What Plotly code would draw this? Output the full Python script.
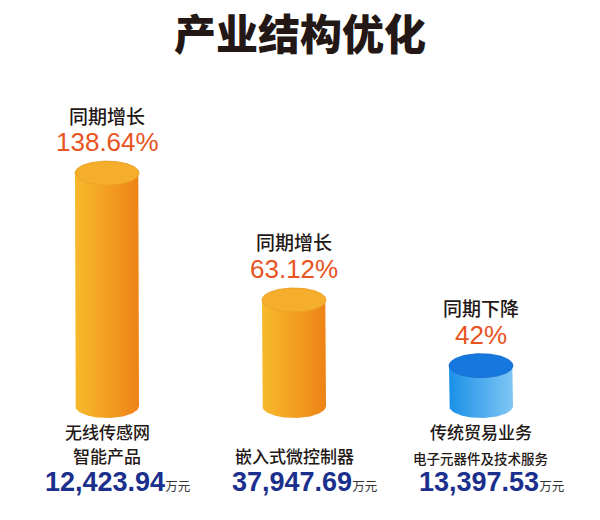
import numpy as np
import plotly.graph_objects as go

# data
line1 = ["无线传感网", "", "传统贸易业务"]
line2 = ["智能产品", "嵌入式微控制器", "电子元器件及技术服务"]
trend = ["同期增长", "同期增长", "同期下降"]
change_pct = [138.64, 63.12, 42]
amount = [12423.94, 37947.69, 13397.53]
cyl_height = [138.64, 63.12, 24]  # drawn height, in % units (the drop bar is drawn short)

# styles
body_colors = [
    [[0, "#F7BA2C"], [1, "#EE8316"]],
    [[0, "#F7BA2C"], [1, "#EE8316"]],
    [[0, "#1990E8"], [1, "#80C6F3"]],
]
top_colors = ["#F5AE2B", "#F5AE2B", "#1677DE"]
top_lines = ["#EBA028", "#EBA028", "#1A6FCC"]

W, H = 600, 520
off = 8               # page body margin pushes the plot 8px right/down
px_x = 187.0          # pixels per category step
px_y = 1.68           # pixels per % unit
x_left = -(107 - off) / px_x
base_from_top = 406 - off
rx = 32 / px_x
ry = 12 / px_y


def py(y_screen):
    return 1 - (y_screen - off) / H


fig = go.Figure()
t = np.linspace(0, 2 * np.pi, 121)

for i, h in enumerate(cyl_height):
    cx = i
    t_bot = np.linspace(np.pi, 2 * np.pi, 61)
    t_top = np.linspace(0, np.pi, 61)
    xs = np.concatenate([[cx - rx], cx + rx * np.cos(t_bot), [cx + rx], cx + rx * np.cos(t_top)])
    ys = np.concatenate([[h], 0 + ry * np.sin(t_bot), [h], h + ry * np.sin(t_top)])
    fig.add_trace(go.Scatter(
        x=xs, y=ys, mode="lines", fill="toself",
        line=dict(width=0),
        fillgradient=dict(type="horizontal", colorscale=body_colors[i]),
        hoverinfo="skip", showlegend=False,
    ))
    fig.add_trace(go.Scatter(
        x=cx + rx * np.cos(t), y=h + ry * np.sin(t), mode="lines", fill="toself",
        fillcolor=top_colors[i], line=dict(width=0.8, color=top_lines[i]),
        hoverinfo="skip", showlegend=False,
    ))

    fig.add_annotation(x=cx, y=h, yshift=31, text=f"{change_pct[i]:g}%",
                       showarrow=False, font=dict(size=26, color="#E8541F",
                                                  family="Liberation Sans, Noto Sans CJK SC"))
    fig.add_annotation(x=cx, y=h, yshift=58, text=trend[i], showarrow=False,
                       font=dict(size=19, color="#231815", family="Noto Sans CJK SC", weight=500))

    if line1[i]:
        fig.add_annotation(x=cx, y=py(446), yref="paper", text=line1[i], showarrow=False,
                           font=dict(size=17, color="#231815", family="Noto Sans CJK SC", weight=500))
    sub_size = 13.5 if len(line2[i]) > 7 else 17
    fig.add_annotation(x=cx, y=py(470), yref="paper", text=line2[i], showarrow=False,
                       font=dict(size=sub_size, color="#231815", family="Noto Sans CJK SC", weight=500))
    fig.add_annotation(
        x=cx, y=py(499), yref="paper", xshift=10, showarrow=False,
        text=f"<b>{amount[i]:,.2f}</b><span style='font-size:12.5px;color:#333333;"
             f"font-family:Noto Sans CJK SC;font-weight:400'>万元</span>",
        font=dict(size=27, color="#1B2F8C", family="Liberation Sans"),
    )

fig.update_layout(
    width=W, height=H,
    margin=dict(l=0, r=0, t=0, b=0),
    paper_bgcolor="white", plot_bgcolor="white",
    title=dict(text="产业结构优化", x=(300 - off) / W, xanchor="center", y=py(35), yanchor="middle",
               font=dict(size=42, color="#231815", family="Noto Sans CJK SC", weight=900)),
    xaxis=dict(range=[x_left, x_left + W / px_x], visible=False, fixedrange=True),
    yaxis=dict(range=[-(H - base_from_top) / px_y, base_from_top / px_y], visible=False, fixedrange=True),
)

fig.write_html("out.html")
